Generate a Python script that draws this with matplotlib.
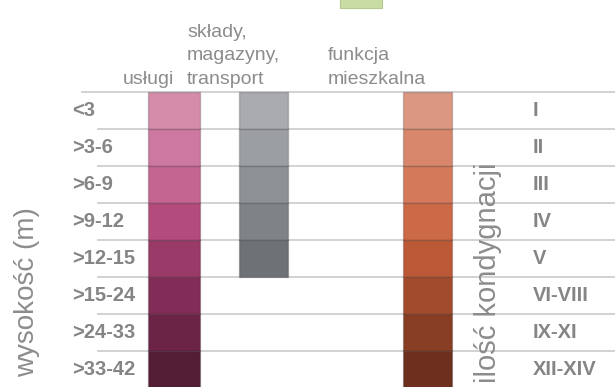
import matplotlib
matplotlib.use("Agg")
import matplotlib.pyplot as plt
from matplotlib.patches import Rectangle

plt.rcParams['font.family'] = ['Liberation Sans', 'DejaVu Sans']

height_labels = ["<3", ">3-6", ">6-9", ">9-12", ">12-15", ">15-24", ">24-33", ">33-42"]
floor_labels = ["I", "II", "III", "IV", "V", "VI-VIII", "IX-XI", "XII-XIV"]

columns = ["usługi", "składy,\nmagazyny,\ntransport", "funkcja\nmieszkalna"]
rows_span = [8, 5, 8]
col_colors = [
    ["#d48caa", "#cd78a0", "#c36491", "#b44b7d", "#9a3a68", "#822d57", "#6c2446", "#551e37"],
    ["#a9abaf", "#9b9ea3", "#8e9196", "#7f8388", "#6e7176"],
    ["#dc9782", "#d8876d", "#d47959", "#cc6947", "#bb5936", "#a34b2d", "#883d25", "#6d301e"],
]

W, H = 615, 387
row_top, row_h = 92, 37

fig = plt.figure(figsize=(W / 100, H / 100), dpi=100)
ax = fig.add_axes([0, 0, 1, 1])
ax.set_xlim(0, W)
ax.set_ylim((H - row_top) / row_h, -row_top / row_h)
ax.axis('off')

def py(pix):
    return (pix - row_top) / row_h

# horizontal grid lines
n = len(height_labels)
for i in range(n + 1):
    x0 = 82 if i == 0 else 98
    ax.plot([x0, W], [i, i], color="#cfcfcf", lw=1.3, zorder=1)

# bars
bar_x = [174, 263.5, 427.5]
bar_w = [52, 49, 49]
for ci in range(len(columns)):
    for r in range(rows_span[ci]):
        ax.bar(bar_x[ci], 1, width=bar_w[ci], bottom=r, color=col_colors[ci][r],
               edgecolor="#00000030", linewidth=1.0, zorder=2)

# row labels
for i, lab in enumerate(height_labels):
    ax.text(72, i + 0.5, lab, ha='left', va='center', fontsize=14.5,
            fontweight='bold', color="#858585", zorder=3)
for i, lab in enumerate(floor_labels):
    ax.text(533, i + 0.5, lab, ha='left', va='center', fontsize=14.5,
            fontweight='bold', color="#858585", zorder=3)

# column headers
ax.text(148, py(84), columns[0], ha='center', va='baseline', fontsize=14,
        color="#8c8c8c")
ax.text(187, py(84), columns[1], ha='left', va='baseline', fontsize=14,
        color="#8c8c8c", linespacing=1.5)
ax.text(328, py(84), columns[2], ha='left', va='baseline', fontsize=14,
        color="#8c8c8c", linespacing=1.5)

# axis titles
ax.text(27, py(292), "wysokość (m)", rotation=90, ha='center', va='center',
        fontsize=20, color="#8c8c8c")
ax.text(488, py(273), "ilość kondygnacji", rotation=90, ha='center', va='center',
        fontsize=21, color="#8c8c8c")

# partial legend swatch at top
ax.add_patch(Rectangle((340, py(-2)), 42, py(8) - py(-2), facecolor="#c9dca4",
                       edgecolor="#b5c890", lw=0.8, zorder=2))

fig.savefig("out.png", dpi=100)
